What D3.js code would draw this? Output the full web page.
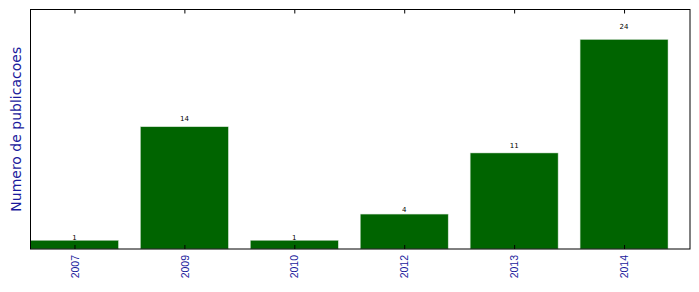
<!DOCTYPE html>
<html>
<head>
<meta charset="utf-8">
<script src="https://cdn.jsdelivr.net/npm/d3@7"></script>
<style>
  body { margin: 0; background: #fff; }
  svg { display: block; font-family: "DejaVu Sans", sans-serif; }
</style>
</head>
<body>
<script>
// dados do grafico
const anos = ['2007', '2009', '2010', '2012', '2013', '2014'];
const publicacoes = [1, 14, 1, 4, 11, 24];
const yMax = 27.43;
const larguraBarra = 0.8;

const width = 699;
const height = 292;
const margin = { top: 9.5, right: 9, bottom: 43, left: 30.5 };
const innerW = width - margin.left - margin.right;
const innerH = height - margin.top - margin.bottom;

const svg = d3.select('body').append('svg')
    .attr('width', width)
    .attr('height', height);

const g = svg.append('g')
    .attr('transform', `translate(${margin.left},${margin.top})`);

// eixo x por indice, como no matplotlib
const x = d3.scaleLinear()
    .domain([-larguraBarra / 2, anos.length - larguraBarra / 2])
    .range([0, innerW]);

const y = d3.scaleLinear()
    .domain([0, yMax])
    .range([innerH, 0]);

const data = anos.map((ano, i) => ({ i, ano, valor: publicacoes[i] }));

g.selectAll('rect.bar').data(data).enter()
    .append('rect')
    .attr('class', 'bar')
    .attr('x', d => x(d.i - larguraBarra / 2))
    .attr('y', d => y(d.valor))
    .attr('width', x(larguraBarra) - x(0))
    .attr('height', d => innerH - y(d.valor))
    .attr('fill', '#006400')
    .attr('stroke', '#cfe0cf')
    .attr('stroke-width', 0.5);

// rotulos de valor
g.selectAll('text.valor').data(data).enter()
    .append('text')
    .attr('class', 'valor')
    .attr('x', d => x(d.i))
    .attr('y', d => y(d.valor * 1.05))
    .attr('text-anchor', 'middle')
    .attr('font-size', 7)
    .attr('fill', '#000')
    .text(d => d.valor);

// eixo inferior
const xAxis = g.append('g')
    .attr('transform', `translate(0,${innerH})`)
    .call(d3.axisBottom(x)
        .tickValues(d3.range(anos.length))
        .tickFormat(i => anos[i])
        .tickSizeInner(-4).tickSizeOuter(0));
xAxis.select('.domain').remove();
xAxis.selectAll('.tick line').attr('stroke', '#000');
xAxis.selectAll('.tick text')
    .attr('font-size', 10.5)
    .attr('fill', '#1a1a9c')
    .attr('text-anchor', 'end')
    .attr('transform', 'rotate(-90)')
    .attr('x', -6)
    .attr('y', 0)
    .attr('dy', '0.35em');

// ticks do topo
const xTop = g.append('g')
    .call(d3.axisTop(x)
        .tickValues(d3.range(anos.length))
        .tickFormat('')
        .tickSizeInner(-4).tickSizeOuter(0));
xTop.select('.domain').remove();
xTop.selectAll('.tick line').attr('stroke', '#000');

// moldura
g.append('rect')
    .attr('width', innerW)
    .attr('height', innerH)
    .attr('fill', 'none')
    .attr('stroke', '#000')
    .attr('stroke-width', 1);

// titulo do eixo y
svg.append('text')
    .attr('transform', `translate(21,${margin.top + innerH / 2}) rotate(-90)`)
    .attr('text-anchor', 'middle')
    .attr('font-size', 14)
    .attr('fill', '#1a1a9c')
    .text('Numero de publicacoes');
</script>
</body>
</html>
